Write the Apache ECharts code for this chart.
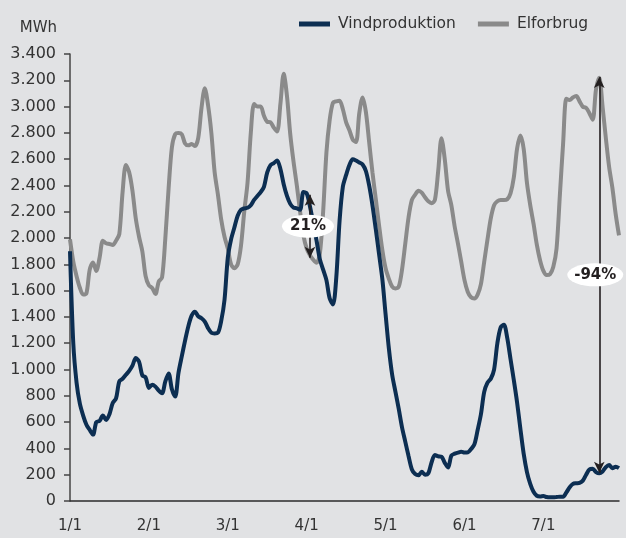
<!DOCTYPE html>
<html>
<head>
<meta charset="utf-8">
<script src="https://cdn.jsdelivr.net/npm/echarts@6/dist/echarts.min.js"></script>
<style>
  html, body { margin: 0; padding: 0; background: #e1e2e4; }
  #chart { width: 626px; height: 538px; }
</style>
</head>
<body>
<div id="chart"></div>
<script>
// Day labels (Danish format day/month), hourly data
const days = ['1/1', '2/1', '3/1', '4/1', '5/1', '6/1', '7/1'];
const hoursPerDay = 24;

const yTicks = [0, 200, 400, 600, 800, 1000, 1200, 1400, 1600, 1800, 2000, 2200, 2400, 2600, 2800, 3000, 3200, 3400];

const vindproduktion = [
  1900, 1200, 900, 740, 650, 580, 540, 505, 600, 610, 650, 616, 660, 745, 780, 910, 930, 960, 990, 1030, 1087, 1060, 955, 940,
  860, 885, 870, 840, 820, 910, 970, 850, 795, 975, 1100, 1220, 1330, 1410, 1440, 1405, 1390, 1365, 1315, 1280, 1275, 1280, 1370, 1530,
  1850, 1990, 2080, 2170, 2215, 2226, 2230, 2250, 2290, 2320, 2350, 2390, 2500, 2555, 2570, 2590, 2525, 2410, 2320, 2260, 2232, 2226, 2215, 2350,
  2340, 2240, 2110, 1980, 1840, 1760, 1680, 1540, 1495, 1700, 2130, 2390, 2480, 2555, 2600, 2590, 2575, 2560, 2510, 2400, 2250, 2070, 1880, 1690,
  1420, 1160, 960, 830, 700, 560, 450, 340, 240, 205, 195, 223, 200, 211, 295, 350, 340, 337, 290, 255, 345, 360, 368, 375,
  368, 370, 395, 430, 540, 660, 830, 900, 930, 1000, 1200, 1320, 1340, 1240, 1080, 920, 750, 550, 360, 220, 130, 70, 40, 35,
  38, 30, 28, 28, 30, 33, 33, 65, 105, 130, 135, 138, 155, 200, 240, 245, 220, 211, 225, 258, 274, 250, 261, 250
];

const elforbrug = [
  1990, 1820, 1710, 1622, 1570, 1580, 1760, 1815, 1750, 1850, 1980, 1960, 1955, 1948, 1980, 2030, 2350, 2555, 2500, 2360, 2150, 2010, 1900, 1710,
  1640, 1620, 1575, 1670, 1700, 2000, 2380, 2690, 2790, 2800, 2790, 2720, 2705, 2715, 2700, 2760, 2990, 3140, 3010, 2800, 2500, 2330, 2140, 2010,
  1920, 1800, 1770, 1800, 1940, 2200, 2420, 2800, 3020, 3000, 3000, 2930, 2884, 2880, 2840, 2810, 3020, 3250, 3080, 2790, 2580, 2400, 2200, 2020,
  1920, 1870, 1835, 1812, 1880, 2200, 2650, 2900, 3030, 3040, 3045, 2980, 2880, 2820, 2750, 2730, 2950, 3070, 2960, 2730, 2500, 2300, 2100, 1910,
  1770, 1690, 1630, 1617, 1630, 1760, 1960, 2160, 2290, 2330, 2360, 2345, 2310, 2280, 2265, 2290, 2510, 2760, 2600, 2360, 2250, 2090, 1960, 1820,
  1680, 1590, 1550, 1541, 1570, 1650, 1820, 1990, 2150, 2250, 2280, 2289, 2289, 2295, 2340, 2460, 2680, 2780, 2680, 2420, 2250, 2110, 1950, 1830,
  1750, 1719, 1725, 1780, 1920, 2320, 2720, 3060, 3050, 3070, 3080, 3040, 2999, 2990, 2950, 2900, 3130, 3220, 3000, 2760, 2540, 2380, 2180, 2020
];

// Annotations: hour index, upper value, lower value, text
const annotations = [
  { idx: 73, top: 2330, bottom: 1850, text: '21%' },
  { idx: 161, top: 3225, bottom: 215, text: '-94%' }
];

const seriesNames = ['Vindproduktion', 'Elforbrug'];
const colors = ['#0c2e52', '#8a8a8a'];

// Build hourly categories
const categories = [];
days.forEach(d => { for (let h = 0; h < hoursPerDay; h++) categories.push(d + ' ' + h); });
const nPoints = vindproduktion.length;
const cats = categories.slice(0, nPoints);

function fmtDK(v) { return String(v).replace(/\B(?=(\d{3})+(?!\d))/g, '.'); }

const FONT = 'DejaVu Sans';
const ellipse = 'path://M0,10 A25,10 0 1,0 50,10 A25,10 0 1,0 0,10 Z';

const chart = echarts.init(document.getElementById('chart'), null, { renderer: 'canvas' });

const option = {
  backgroundColor: '#e1e2e4',
  animation: false,
  textStyle: { fontFamily: FONT },
  legend: {
    top: 11,
    left: 294,
    itemWidth: 31,
    itemHeight: 5,
    itemGap: 22,
    icon: 'rect',
    textStyle: { fontFamily: FONT, fontSize: 15.5, color: '#333', padding: [0, 0, 0, 3] },
    data: seriesNames
  },
  grid: { left: 70, right: 7, top: 54, bottom: 37, containLabel: false },
  xAxis: {
    type: 'category',
    data: cats,
    boundaryGap: false,
    axisLine: { lineStyle: { color: '#2b2b2b', width: 1.5 } },
    axisTick: { show: false },
    axisLabel: {
      interval: hoursPerDay - 1,
      formatter: v => v.split(' ')[0],
      fontFamily: FONT, fontSize: 15, color: '#333', margin: 18
    },
    splitLine: { show: false }
  },
  yAxis: {
    type: 'value',
    name: 'MWh',
    nameLocation: 'end',
    nameGap: 18,
    nameTextStyle: { fontFamily: FONT, fontSize: 15, color: '#333', align: 'right', padding: [0, 13, 0, 0] },
    min: yTicks[0],
    max: yTicks[yTicks.length - 1],
    interval: yTicks[1] - yTicks[0],
    axisLine: { show: true, lineStyle: { color: '#444', width: 1.5 } },
    axisTick: { show: true, inside: false, length: 6, lineStyle: { color: '#444', width: 1.5 } },
    axisLabel: { formatter: v => fmtDK(v), fontFamily: FONT, fontSize: 16, color: '#333', margin: 14 },
    splitLine: { show: false }
  },
  series: [
    {
      name: seriesNames[0],
      type: 'line',
      data: vindproduktion,
      showSymbol: false,
      smooth: 0.3,
      z: 3,
      lineStyle: { color: colors[0], width: 4 },
      itemStyle: { color: colors[0] },
      markLine: {
        silent: true,
        symbol: ['arrow', 'arrow'],
        symbolSize: [8, 11],
        lineStyle: { color: '#231f20', width: 1.6, type: 'solid' },
        label: { show: false },
        data: annotations.map(a => [{ coord: [a.idx, a.top] }, { coord: [a.idx, a.bottom] }])
      },
      markPoint: {
        silent: true,
        data: annotations.map(a => ({
          coord: [a.idx, (a.top + a.bottom) / 2],
          symbol: ellipse,
          symbolSize: [a.text.length > 3 ? 56 : 52, 23],
          symbolOffset: [a.text.length > 3 ? -4 : -2, 0],
          itemStyle: { color: '#ffffff' },
          label: { show: true, position: 'inside', formatter: a.text, color: '#231f20', fontWeight: 'bold', fontSize: 15, fontFamily: FONT }
        }))
      }
    },
    {
      name: seriesNames[1],
      type: 'line',
      data: elforbrug,
      showSymbol: false,
      smooth: 0.3,
      z: 2,
      lineStyle: { color: colors[1], width: 4 },
      itemStyle: { color: colors[1] }
    }
  ]
};
chart.setOption(option);
</script>
</body>
</html>
